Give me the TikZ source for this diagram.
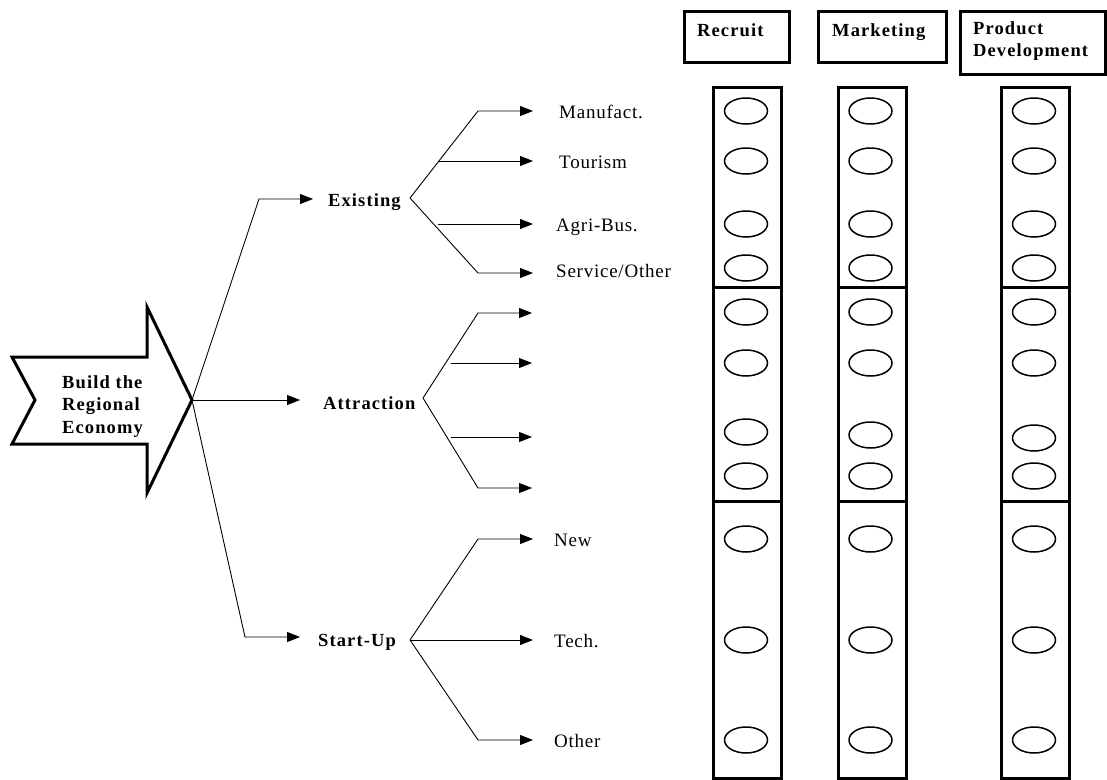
\documentclass[tikz,border=0pt]{standalone}
\usepackage{fontspec}
\setmainfont{Liberation Serif}
\newfontfamily\lblfont[LetterSpace=4]{Liberation Serif}
\newfontfamily\blblfont[LetterSpace=6]{Liberation Serif}
\usetikzlibrary{arrows.meta,shapes.geometric}
\begin{document}
\begin{tikzpicture}[x=1pt,y=-1pt,
  conn/.style={line width=0.9pt},
  arr/.style={line width=0.9pt,-{Triangle[length=13pt,width=10pt]}},
  lab/.style={inner sep=0pt,anchor=base west,font=\lblfont\fontsize{19}{22}\selectfont},
  blab/.style={inner sep=0pt,anchor=base west,font=\blblfont\bfseries\fontsize{18.5}{22.5}\selectfont},
  hdr/.style={draw,line width=2.5pt,anchor=north west,inner sep=0pt},
  colbox/.style={draw,line width=2.5pt,anchor=north west,inner sep=0pt,minimum width=68pt},
  oval/.style={draw,ellipse,line width=1.5pt,minimum width=43pt,minimum height=26pt,inner sep=0pt}]
\useasboundingbox (0,0) rectangle (1107,779);

% big arrow
\draw[line width=3pt,line join=miter] (12,357) -- (35,400) -- (12,444) -- (147,444) -- (147,493) -- (192,400) -- (147,307) -- (147,357) -- cycle;
\node[blab,anchor=north west,align=left] (bre) at (62,375) {Build the\\Regional\\Economy};
\coordinate (tip) at (192,400);

% first level
\coordinate (k1) at (259,199); \coordinate (a1) at (313,199);
\coordinate (a2) at (300,400);
\coordinate (k3) at (245,637); \coordinate (a3) at (300,637);
\draw[arr] (tip) -- (k1) -- (a1);
\draw[arr] (tip) -- (a2);
\draw[arr] (tip) -- (k3) -- (a3);
\node[blab] (exi) at (328,206) {Existing};
\node[blab] (att) at (323,409) {Attraction};
\node[blab] (stu) at (318,646) {Start-Up};

% Existing fork
\coordinate (fe) at (410,198);
\coordinate (fek1) at (478,111); \coordinate (fea1) at (533,111);
\coordinate (fes2) at (438,161); \coordinate (fea2) at (533,161);
\coordinate (fes3) at (438,224); \coordinate (fea3) at (533,224);
\coordinate (fek4) at (478,273); \coordinate (fea4) at (533,273);
\draw[arr] (fe) -- (fek1) -- (fea1);
\draw[arr] (fes2) -- (fea2);
\draw[arr] (fes3) -- (fea3);
\draw[arr] (fe) -- (fek4) -- (fea4);
\node[lab] (man) at (559,118) {Manufact.};
\node[lab] (tou) at (559,168) {Tourism};
\node[lab] (agr) at (556,231) {Agri-Bus.};
\node[lab] (ser) at (556,277) {Service/Other};

% Attraction fork
\coordinate (fa) at (423,398);
\coordinate (fak1) at (478,313); \coordinate (faa1) at (532,313);
\coordinate (fas2) at (451,363); \coordinate (faa2) at (532,363);
\coordinate (fas3) at (451,437); \coordinate (faa3) at (532,437);
\coordinate (fak4) at (478,488); \coordinate (faa4) at (532,488);
\draw[arr] (fa) -- (fak1) -- (faa1);
\draw[arr] (fas2) -- (faa2);
\draw[arr] (fas3) -- (faa3);
\draw[arr] (fa) -- (fak4) -- (faa4);

% Start-Up fork
\coordinate (fs) at (410,640);
\coordinate (fsk1) at (478,539); \coordinate (fsa1) at (533,539);
\coordinate (fsa2) at (533,640);
\coordinate (fsk3) at (478,740); \coordinate (fsa3) at (533,740);
\draw[arr] (fs) -- (fsk1) -- (fsa1);
\draw[arr] (fs) -- (fsa2);
\draw[arr] (fs) -- (fsk3) -- (fsa3);
\node[lab] (new) at (554,546) {New};
\node[lab] (tec) at (554,647) {Tech.};
\node[lab] (oth) at (554,747) {Other};

% headers
\node[hdr,minimum width=105pt,minimum height=51pt] (hrec) at (683,10) {};
\node[blab] (trec) at (697,36) {Recruit};
\node[hdr,minimum width=128pt,minimum height=51pt] (hmar) at (817,10) {};
\node[blab] (tmar) at (832,36) {Marketing};
\node[hdr,minimum width=145pt,minimum height=63pt] (hpro) at (959,10) {};
\node[blab,anchor=north west,align=left] (tpro) at (973,21) {Product\\Development};

% columns
\foreach \n/\L/\C/\s in {r/712/746/432, m/837/870.5/435, p/1000/1034/438} {
  \node[colbox,minimum height=200pt] (\n-b1) at (\L,86) {};
  \node[colbox,minimum height=214pt] (\n-b2) at (\L,286) {};
  \node[colbox,minimum height=277pt] (\n-b3) at (\L,500) {};
  \foreach \i/\y in {1/111,2/161,3/224,4/268,5/312,6/363,7/\s,8/476,9/539,10/640,11/740}
    \node[oval] (\n-o\i) at (\C,\y) {};
}
\end{tikzpicture}
\end{document}
